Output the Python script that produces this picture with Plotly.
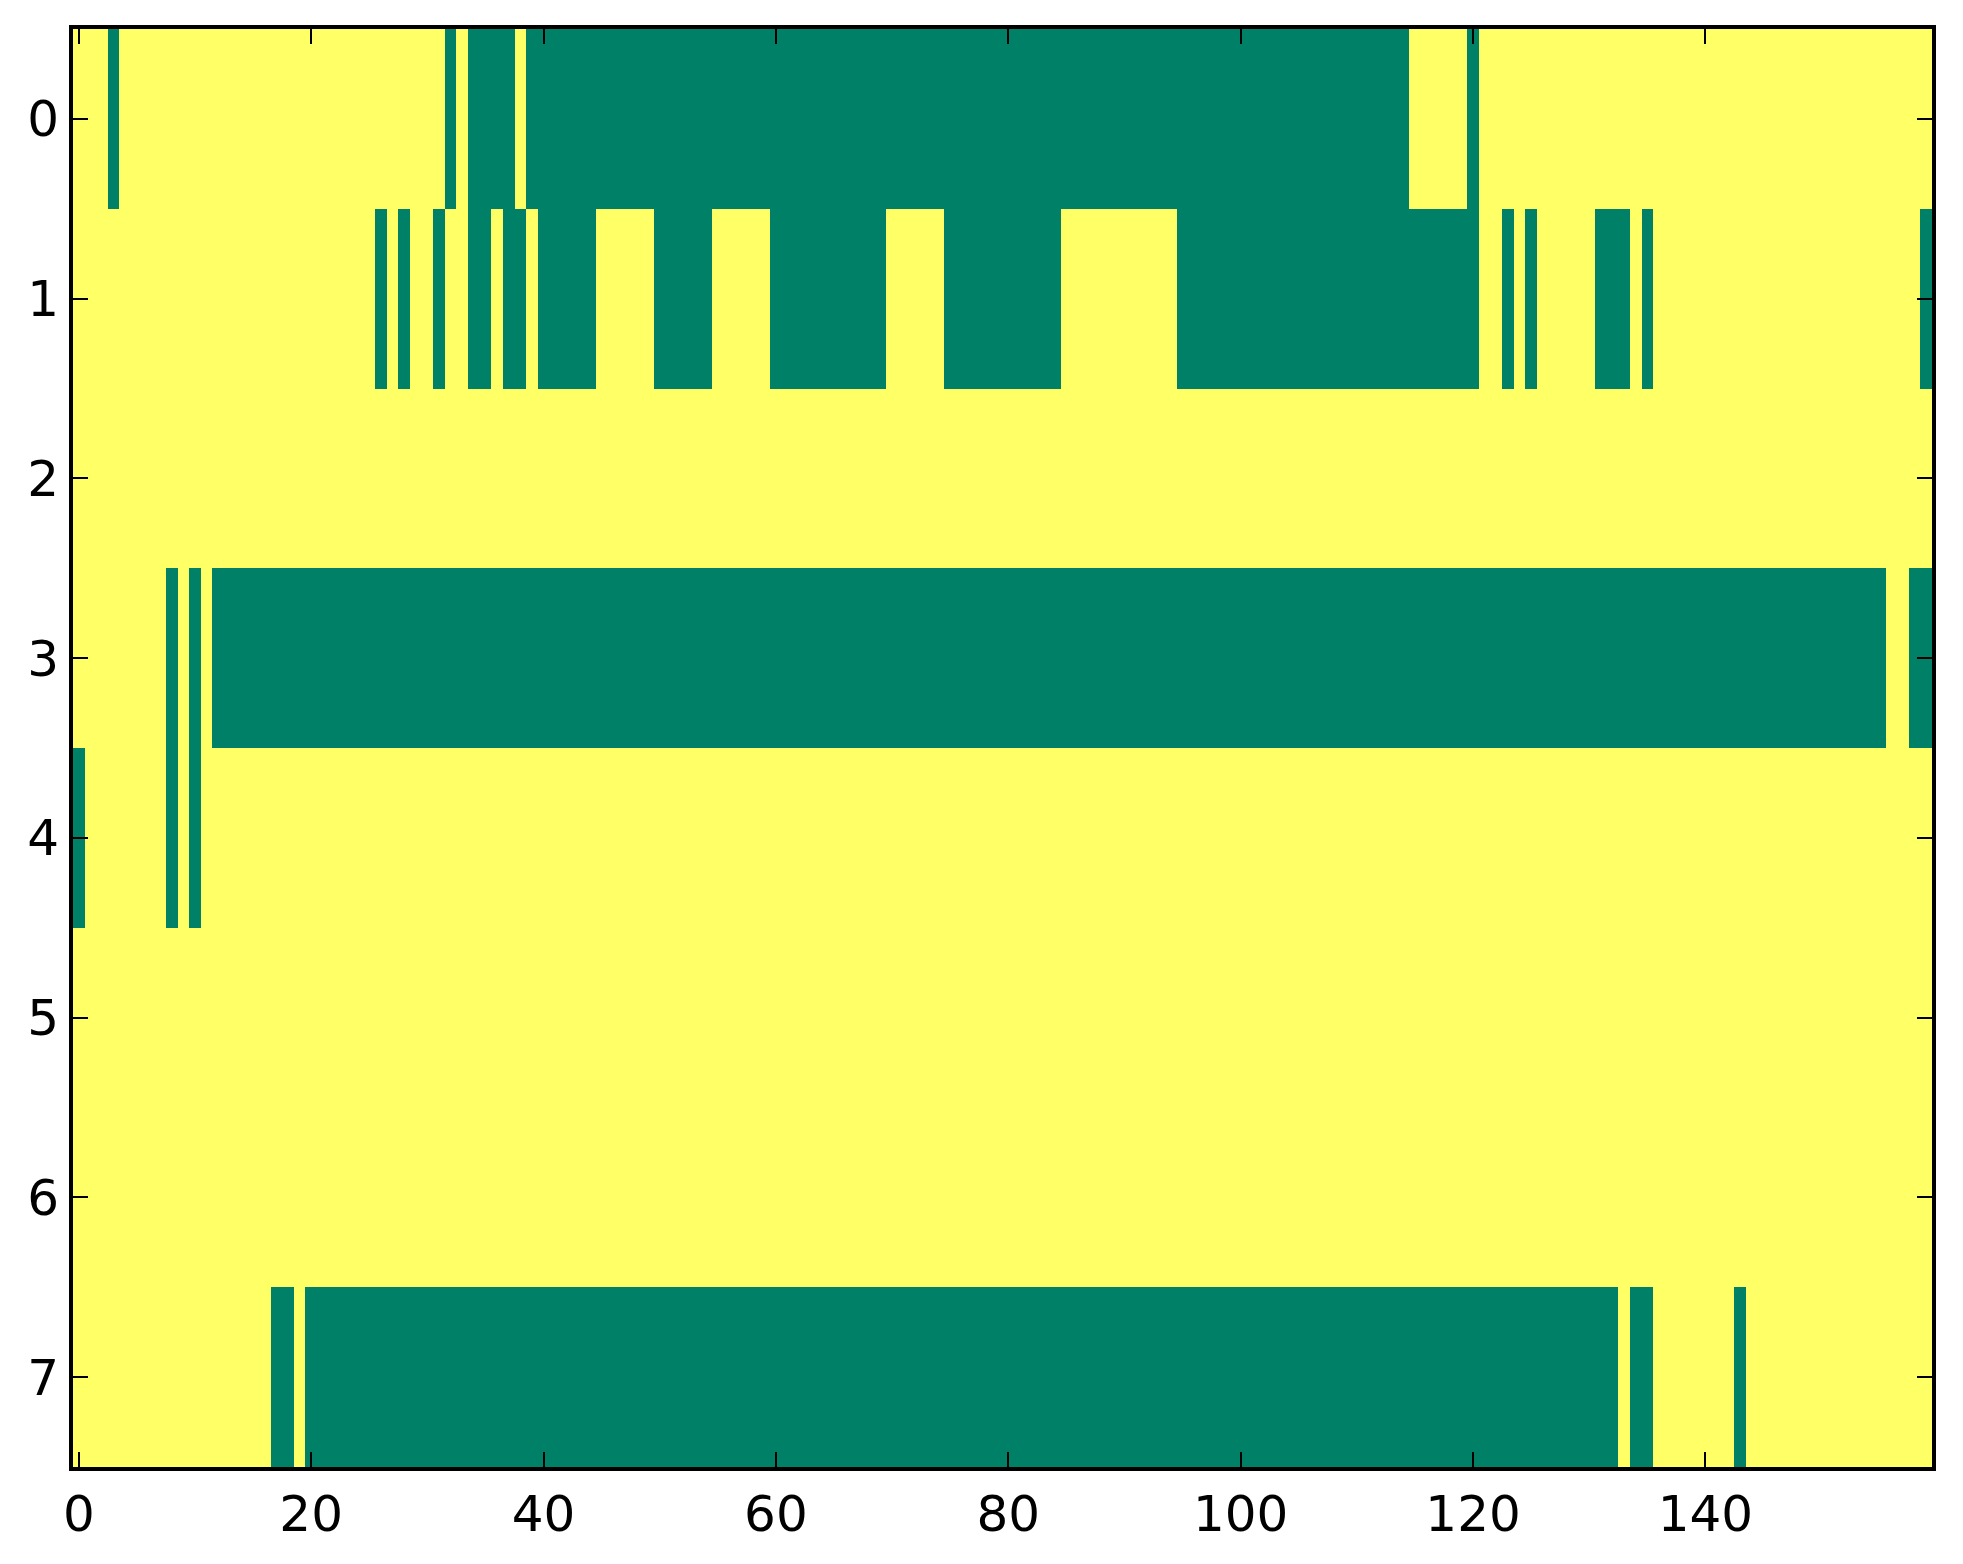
import numpy as np
import plotly.graph_objects as go

n_cols = 160
row_labels = [0, 1, 2, 3, 4, 5, 6, 7]

# green (value 0) runs per row, inclusive column ranges; everything else is 1
row0_runs = [(3, 3), (32, 32), (34, 37), (39, 114), (120, 120)]
row1_runs = [(26, 26), (28, 28), (31, 31), (34, 35), (37, 38), (40, 44), (50, 54),
             (60, 69), (75, 84), (95, 120), (123, 123), (125, 125), (131, 133),
             (135, 135), (159, 159)]
row2_runs = []
row3_runs = [(8, 8), (10, 10), (12, 155), (158, 159)]
row4_runs = [(0, 0), (8, 8), (10, 10)]
row5_runs = []
row6_runs = []
row7_runs = [(17, 18), (20, 132), (134, 135), (143, 143)]

all_runs = [row0_runs, row1_runs, row2_runs, row3_runs, row4_runs, row5_runs, row6_runs, row7_runs]

z = np.ones((len(row_labels), n_cols))
for r, runs in enumerate(all_runs):
    for a, b in runs:
        z[r, a:b + 1] = 0

fig = go.Figure(go.Heatmap(
    z=z, x=list(range(n_cols)), y=row_labels,
    colorscale=[[0, "#008066"], [1, "#FFFF66"]],
    zmin=0, zmax=1, showscale=False, hoverinfo="skip"))

axis_style = dict(showline=True, linecolor="black", linewidth=4, mirror="ticks",
                  ticks="inside", ticklen=15, tickwidth=2, tickcolor="black",
                  showgrid=False, zeroline=False,
                  tickfont=dict(family="DejaVu Sans", size=50, color="black"))

fig.update_xaxes(range=[-0.5, 159.5], tickvals=[0, 20, 40, 60, 80, 100, 120, 140], **axis_style)
fig.update_yaxes(range=[7.5, -0.5], tickvals=row_labels, **axis_style)

# page body adds 8px margin, so the figure is a bit smaller than the window
fig.update_layout(width=1947, height=1548, plot_bgcolor="white", paper_bgcolor="white",
                  margin=dict(l=65, r=23, t=21, b=89))

fig.write_html("out.html")
